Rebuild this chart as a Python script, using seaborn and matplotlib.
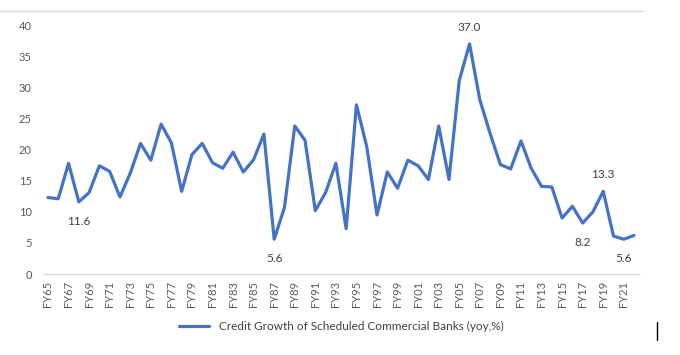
import numpy as np
import pandas as pd
import matplotlib
matplotlib.use("Agg")
import matplotlib.pyplot as plt
from matplotlib.lines import Line2D
import seaborn as sns

# fiscal years FY65 .. FY22
years = ["FY%02d" % (y % 100) for y in range(1965, 2023)]
growth = [12.3, 12.1, 17.8, 11.6, 13.1, 17.4, 16.5, 12.4, 16.2, 21.0,
          18.3, 24.1, 21.1, 13.3, 19.2, 21.0, 17.9, 17.0, 19.6, 16.4,
          18.4, 22.5, 5.6, 10.7, 23.8, 21.5, 10.2, 13.1, 17.8, 7.3,
          27.2, 20.5, 9.5, 16.4, 13.8, 18.3, 17.4, 15.2, 23.8, 15.2,
          31.1, 37.0, 28.0, 22.6, 17.6, 16.9, 21.4, 17.0, 14.1, 14.0,
          9.0, 10.9, 8.2, 10.0, 13.3, 6.1, 5.6, 6.2]
# labelled points: (year, text, placement)
labels = [("FY68", "11.6", "below"), ("FY87", "5.6", "below"),
          ("FY06", "37.0", "above"), ("FY17", "8.2", "below"),
          ("FY19", "13.3", "above"), ("FY21", "5.6", "below")]

series_name = "Credit Growth of Scheduled Commercial Banks (yoy,%)"
df = pd.DataFrame({"year": years, "pos": np.arange(len(years)), "growth": growth})

sns.set_style("white")
plt.rcParams["font.family"] = ["Lato", "DejaVu Sans"]

fig = plt.figure(figsize=(6.8, 3.55), dpi=100)
ax = fig.add_axes([0.063, 0.228, 0.877, 0.701])

blue = "#4472C4"
sns.lineplot(data=df, x="pos", y="growth", ax=ax, color=blue, linewidth=2.3,
             label=series_name)

ax.set_xlim(-0.5, len(years) - 0.5)
ax.set_ylim(0, 40)
ax.set_yticks(np.arange(0, 41, 5))
ax.set_xticks(df["pos"][::2])
ax.set_xticklabels(df["year"][::2], rotation=90)
ax.tick_params(axis="both", labelsize=8, colors="#595959", length=0)
ax.tick_params(axis="y", pad=8)
ax.tick_params(axis="x", pad=5)
ax.set_xlabel("")
ax.set_ylabel("")
for s in ["top", "right", "left"]:
    ax.spines[s].set_visible(False)
ax.spines["bottom"].set_color("#D9D9D9")
ax.spines["bottom"].set_linewidth(1)

for yr, txt, where in labels:
    i = years.index(yr)
    v = growth[i]
    off = -10 if where == "below" else 8
    ax.annotate(txt, (i, v), xytext=(0, off), textcoords="offset points",
                ha="center", va="top" if where == "below" else "bottom",
                fontsize=8.5, color="#404040")

leg = ax.legend(loc="center", bbox_to_anchor=(0.5, -0.21), frameon=False,
                fontsize=8.5, handlelength=2.6)
for t in leg.get_texts():
    t.set_color("#404040")

# faint frame line above plot and stray cursor mark
fig.add_artist(Line2D([0.0, 0.945], [1 - 11 / 355, 1 - 11 / 355],
                      color="#D9D9D9", linewidth=1))
fig.add_artist(Line2D([657 / 680, 657 / 680], [1 - 322 / 355, 1 - 340 / 355],
                      color="black", linewidth=1))

fig.savefig("out.png", dpi=100)
